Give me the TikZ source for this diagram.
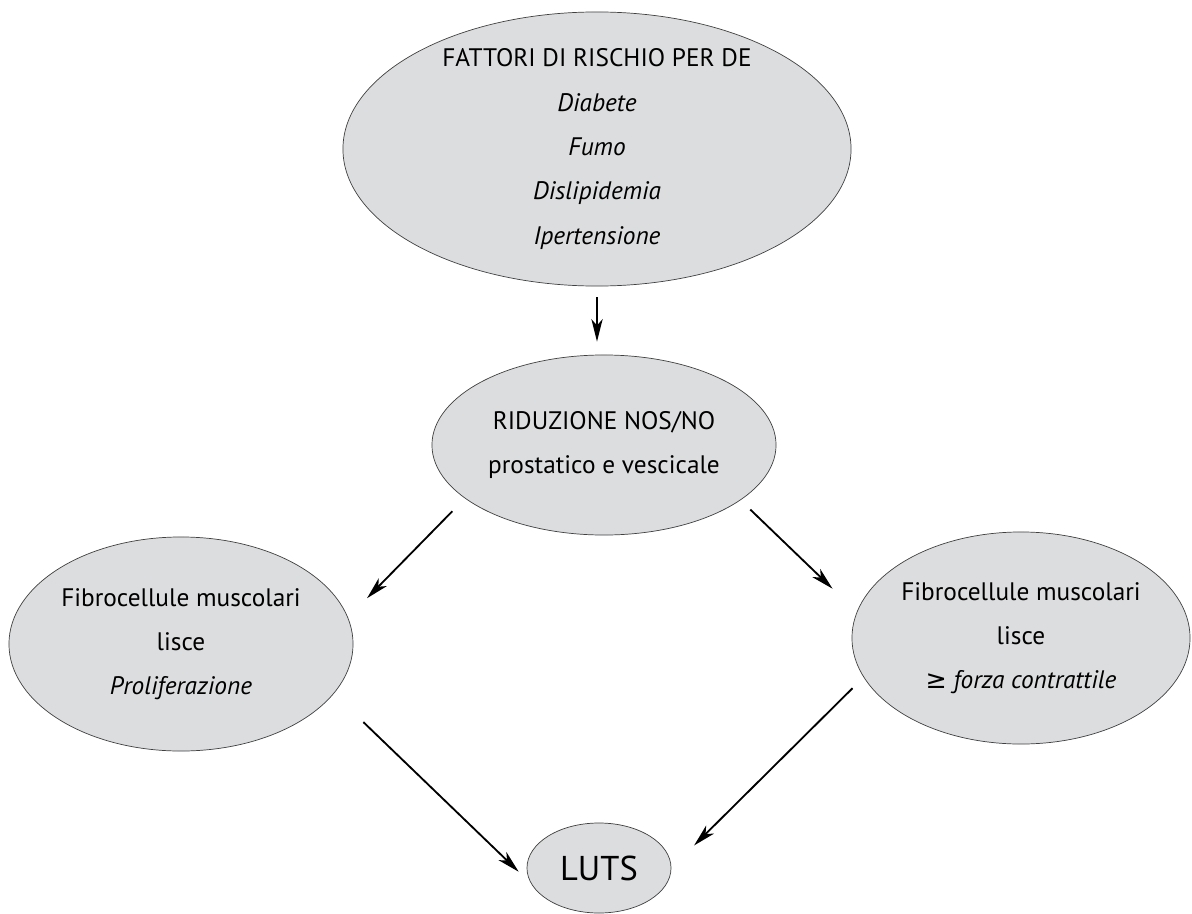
\documentclass[tikz,border=0pt]{standalone}
\usepackage{fontspec}
\setmainfont{PT Sans}
\newfontfamily\symfont{DejaVu Sans}
\usetikzlibrary{shapes.geometric,arrows.meta}
\definecolor{blobgray}{RGB}{220,221,223}

\begin{document}
\begin{tikzpicture}[x=0.025cm, y=-0.025cm,
  blob/.style={ellipse, draw=black!75, line width=0.5pt, fill=blobgray, inner sep=-6pt,
    align=center, font=\fontsize{18}{31.5}\selectfont},
  arr/.style={-{Stealth[length=16pt, width=8pt, inset=4.5pt]}, line width=1.3pt}]
  \useasboundingbox (0,0) rectangle (1192,914);

  \node[blob, minimum width=12.7cm, minimum height=6.85cm] (risk) at (597,149)
    {FATTORI DI RISCHIO PER DE\\\textit{Diabete}\\\textit{Fumo}\\\textit{Dislipidemia}\\\textit{Ipertensione}};
  \node[blob, minimum width=8.6cm, minimum height=4.5cm] (nos) at (604,445)
    {RIDUZIONE NOS/NO\\prostatico e vescicale};
  \node[blob, minimum width=8.6cm, minimum height=5.35cm] (prolif) at (181,644)
    {Fibrocellule muscolari\\lisce\\\textit{Proliferazione}};
  \node[blob, minimum width=8.45cm, minimum height=5.3cm] (contr) at (1021,638)
    {Fibrocellule muscolari\\lisce\\{\symfont ≥} \textit{forza contrattile}};
  \node[blob, minimum width=3.6cm, minimum height=2.25cm, font=\fontsize{24.5}{28}\selectfont] (luts) at (599,868) {LUTS};

  \draw[arr, shorten <=0.275cm, shorten >=0.325cm] (risk.south) -- (risk.south |- nos.north);
  \draw[arr, shorten <=0.45cm, shorten >=0.675cm] (nos.201.5) -- (prolif.9.2);
  \draw[arr, shorten <=0.34cm, shorten >=0.84cm] (nos.338.4) -- (contr.171.2);
  \draw[arr, shorten <=1.025cm, shorten >=0.43cm] (prolif.342.2) -- (luts.193.8);
  \draw[arr, shorten <=0.39cm, shorten >=0.8cm] (contr.194) -- (luts.east);
\end{tikzpicture}
\end{document}
